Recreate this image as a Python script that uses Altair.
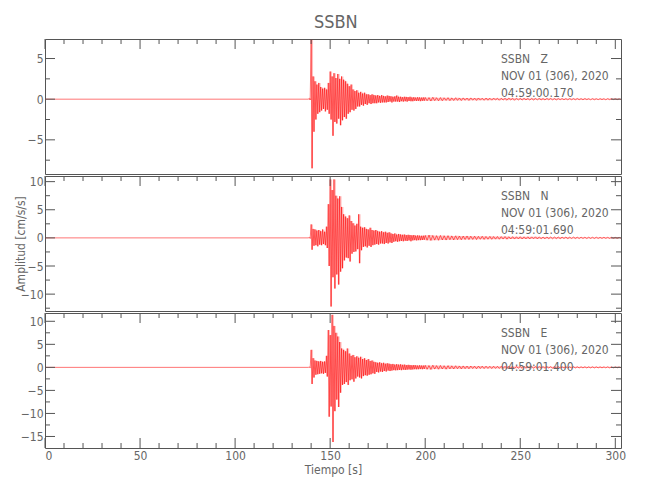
import altair as alt
import pandas as pd

FONT = "Liberation Sans Narrow, DejaVu Sans Condensed, Liberation Sans, sans-serif"
FRAME = "#555555"
TXT = "#666666"
RED = "#ff0000"

XMAX = 303
W, H = 576, 135

# ---- data (upper / lower peaks) ----
# burst part: one pair per second, t = 139 ... 199
Z_up_burst = [0.1, 7.3, 2.8, 2.2, 1.8, 2.0, 1.5, 1.3, 1.4, 1.2,
              2.0, 3.4, 2.8, 3.2, 2.6, 3.1, 2.5, 2.8, 2.4, 2.2,
              1.9, 1.6, 1.8, 1.2, 1.0, 1.1, 0.8, 0.9, 0.7, 0.8,
              0.6, 0.6, 0.5, 0.6, 0.5, 0.45, 0.5, 0.4, 0.5, 0.4,
              0.35, 0.45, 0.4, 0.35, 0.3, 0.35, 0.45, 0.3, 0.3, 0.25,
              0.3, 0.28, 0.25, 0.3, 0.22, 0.25, 0.2, 0.24, 0.22, 0.2,
              0.22]
Z_lo_burst = [-0.1, -8.5, -4.0, -2.5, -1.8, -1.6, -1.4, -1.2, -1.5, -1.3,
              -1.8, -2.5, -4.5, -2.8, -3.0, -2.4, -3.2, -2.6, -2.2, -2.4,
              -1.8, -1.6, -1.3, -1.4, -1.2, -0.9, -0.9, -0.7, -0.8, -0.6,
              -0.7, -0.5, -0.6, -0.5, -0.5, -0.5, -0.4, -0.45, -0.4, -0.4,
              -0.4, -0.35, -0.3, -0.4, -0.3, -0.3, -0.3, -0.35, -0.25, -0.3,
              -0.25, -0.3, -0.22, -0.25, -0.25, -0.2, -0.22, -0.2, -0.24, -0.2,
              -0.2]
N_up_burst = [0.1, 2.4, 1.6, 1.5, 1.3, 1.4, 1.2, 1.5, 1.1, 2.0,
              6.0, 10.4, 8.5, 10.4, 7.5, 7.0, 7.4, 5.5, 4.2, 3.8,
              3.5, 4.0, 3.0, 2.6, 2.2, 2.5, 4.2, 2.0, 1.8, 1.9,
              1.6, 1.5, 1.8, 1.4, 1.3, 1.4, 1.2, 1.1, 1.2, 1.0,
              1.1, 0.9, 1.0, 0.8, 0.7, 0.8, 0.6, 0.7, 0.6, 0.55,
              0.6, 0.5, 0.55, 0.5, 0.45, 0.5, 0.4, 0.45, 0.4, 0.38,
              0.4]
N_lo_burst = [-0.1, -2.1, -1.4, -1.3, -1.5, -1.2, -1.3, -1.1, -1.3, -1.8,
              -5.0, -12.2, -7.0, -9.0, -6.5, -8.3, -6.0, -5.4, -4.0, -3.5,
              -3.6, -4.2, -2.8, -2.5, -2.4, -2.0, -4.5, -2.2, -1.6, -1.5,
              -1.7, -1.4, -1.6, -1.3, -1.2, -1.1, -1.2, -1.0, -1.0, -1.1,
              -0.9, -1.0, -0.8, -0.9, -0.7, -0.6, -0.7, -0.6, -0.55, -0.6,
              -0.5, -0.55, -0.45, -0.6, -0.45, -0.4, -0.45, -0.4, -0.4, -0.38,
              -0.35]
E_up_burst = [0.1, 3.8, 2.0, 1.5, 1.4, 1.3, 1.4, 1.2, 1.3, 2.5,
              8.1, 7.0, 11.4, 9.0, 7.5, 6.7, 5.5, 4.1, 3.8, 3.5,
              4.1, 3.0, 2.5, 2.7, 2.2, 2.4, 2.1, 2.3, 1.8, 2.0,
              1.6, 1.8, 1.4, 1.5, 1.2, 1.1, 1.0, 1.1, 0.9, 1.0,
              0.8, 0.9, 0.8, 0.7, 0.75, 0.6, 0.7, 0.6, 0.65, 0.55,
              0.6, 0.5, 0.55, 0.5, 0.45, 0.5, 0.45, 0.4, 0.45, 0.4,
              0.4]
E_lo_burst = [-0.1, -3.6, -2.2, -1.6, -1.5, -1.4, -1.3, -1.4, -1.2, -2.0,
              -10.7, -8.5, -16.2, -9.5, -7.0, -8.6, -5.5, -3.8, -3.6, -3.2,
              -3.8, -2.8, -2.6, -3.1, -2.4, -2.0, -2.2, -2.4, -1.9, -1.7,
              -1.8, -1.6, -1.5, -1.3, -1.4, -1.0, -1.1, -0.9, -1.0, -0.8,
              -0.9, -0.7, -0.8, -0.7, -0.6, -0.65, -0.6, -0.55, -0.6, -0.5,
              -0.55, -0.5, -0.45, -0.5, -0.45, -0.4, -0.42, -0.4, -0.38, -0.4,
              -0.35]

# coda part: one pair every two seconds, t = 200 ... 302
Z_up_coda = [0.22, 0.2, 0.24, 0.18, 0.2, 0.17, 0.19, 0.16, 0.18, 0.15,
             0.16, 0.14, 0.16, 0.13, 0.15, 0.12, 0.14, 0.12, 0.13, 0.11,
             0.12, 0.11, 0.13, 0.1, 0.12, 0.1, 0.11, 0.09, 0.1, 0.09,
             0.1, 0.08, 0.1, 0.09, 0.08, 0.09, 0.08, 0.07, 0.08, 0.07,
             0.08, 0.07, 0.08, 0.06, 0.07, 0.06, 0.07, 0.06, 0.07, 0.06,
             0.06, 0.05]
Z_lo_coda = [-0.2, -0.23, -0.18, -0.2, -0.19, -0.16, -0.18, -0.17, -0.15, -0.17,
             -0.14, -0.16, -0.13, -0.15, -0.12, -0.14, -0.13, -0.12, -0.11, -0.13,
             -0.11, -0.12, -0.1, -0.12, -0.1, -0.11, -0.09, -0.1, -0.1, -0.08,
             -0.09, -0.1, -0.08, -0.08, -0.09, -0.07, -0.08, -0.08, -0.07, -0.07,
             -0.07, -0.08, -0.06, -0.07, -0.07, -0.06, -0.06, -0.07, -0.06, -0.05,
             -0.06, -0.05]
N_up_coda = [0.45, 0.5, 0.42, 0.4, 0.44, 0.38, 0.4, 0.35, 0.37, 0.33,
             0.32, 0.34, 0.3, 0.31, 0.27, 0.29, 0.26, 0.27, 0.24, 0.25,
             0.23, 0.24, 0.21, 0.22, 0.2, 0.21, 0.19, 0.2, 0.18, 0.19,
             0.17, 0.16, 0.17, 0.16, 0.15, 0.16, 0.14, 0.15, 0.13, 0.14,
             0.12, 0.13, 0.12, 0.12, 0.11, 0.12, 0.1, 0.11, 0.1, 0.1,
             0.09, 0.1]
N_lo_coda = [-0.42, -0.46, -0.4, -0.43, -0.37, -0.39, -0.34, -0.36, -0.32, -0.34,
             -0.3, -0.31, -0.28, -0.3, -0.26, -0.27, -0.25, -0.26, -0.23, -0.24,
             -0.22, -0.23, -0.2, -0.21, -0.19, -0.2, -0.18, -0.19, -0.17, -0.18,
             -0.16, -0.17, -0.15, -0.16, -0.14, -0.15, -0.13, -0.14, -0.12, -0.13,
             -0.12, -0.11, -0.12, -0.1, -0.11, -0.1, -0.1, -0.09, -0.1, -0.09,
             -0.09, -0.08]
E_up_coda = [0.45, 0.4, 0.48, 0.38, 0.42, 0.36, 0.38, 0.33, 0.35, 0.31,
             0.32, 0.29, 0.3, 0.27, 0.28, 0.26, 0.27, 0.24, 0.25, 0.23,
             0.24, 0.22, 0.23, 0.21, 0.22, 0.2, 0.21, 0.19, 0.2, 0.18,
             0.19, 0.17, 0.18, 0.16, 0.17, 0.16, 0.15, 0.16, 0.14, 0.15,
             0.14, 0.13, 0.14, 0.12, 0.13, 0.12, 0.12, 0.11, 0.12, 0.1,
             0.11, 0.1]
E_lo_coda = [-0.42, -0.46, -0.38, -0.4, -0.36, -0.39, -0.33, -0.35, -0.31, -0.33,
             -0.29, -0.31, -0.27, -0.29, -0.26, -0.27, -0.24, -0.26, -0.23, -0.24,
             -0.22, -0.23, -0.21, -0.22, -0.2, -0.21, -0.19, -0.2, -0.18, -0.19,
             -0.17, -0.18, -0.16, -0.17, -0.15, -0.16, -0.14, -0.15, -0.14, -0.13,
             -0.13, -0.12, -0.13, -0.11, -0.12, -0.11, -0.11, -0.1, -0.11, -0.1,
             -0.1, -0.09]

X_MAJOR = [0, 50, 100, 150, 200, 250, 300]
X_MINOR = [10, 20, 30, 40, 60, 70, 80, 90, 110, 120, 130, 140, 160, 170, 180, 190,
           210, 220, 230, 240, 260, 270, 280, 290]

Y_DOMAINS = [[-9.2, 7.4], [-13.0, 11.0], [-17.5, 11.8]]
Y_MAJOR = [[-5, 0, 5], [-10, -5, 0, 5, 10], [-15, -10, -5, 0, 5, 10]]
Y_MINOR = [[-7.5, -2.5, 2.5], [-12.5, -7.5, -2.5, 2.5, 7.5],
           [-12.5, -7.5, -2.5, 2.5, 7.5]]

NOTES = ["SSBN\u00a0\u00a0\u00a0Z\nNOV 01 (306), 2020\n04:59:00.170",
         "SSBN\u00a0\u00a0\u00a0N\nNOV 01 (306), 2020\n04:59:01.690",
         "SSBN\u00a0\u00a0\u00a0E\nNOV 01 (306), 2020\n04:59:01.400"]


def build(up_b, lo_b, up_c, lo_c):
    t = [0.0, 138.5]
    a = [0.0, 0.0]
    env = {"t": [], "u": [], "l": []}
    for i, (u, l) in enumerate(zip(up_b, lo_b)):
        t += [139 + i, 139.5 + i]
        a += [u, l]
        env["t"].append(139 + i)
        env["u"].append(u)
        env["l"].append(l)
    for i, (u, l) in enumerate(zip(up_c, lo_c)):
        t += [200 + 2 * i, 201 + 2 * i]
        a += [u, l]
        env["t"].append(200 + 2 * i)
        env["u"].append(u)
        env["l"].append(l)
    return pd.DataFrame({"t": t, "a": a}), pd.DataFrame(env)


traces = [build(Z_up_burst, Z_lo_burst, Z_up_coda, Z_lo_coda),
          build(N_up_burst, N_lo_burst, N_up_coda, N_lo_coda),
          build(E_up_burst, E_lo_burst, E_up_coda, E_lo_coda)]


def panel(k):
    df, env = traces[k]
    xs = alt.Scale(domain=[0, XMAX], nice=False, zero=False)
    ys = alt.Scale(domain=Y_DOMAINS[k], nice=False, zero=False)
    last = k == 2
    if last:
        xaxis = alt.Axis(values=X_MAJOR, title="Tiempo [s]", labelPadding=2,
                         titlePadding=3, format="d")
    else:
        xaxis = None
    if k == 1:
        yaxis = alt.Axis(values=Y_MAJOR[k], title="Amplitud [cm/s/s]",
                         labelPadding=2, titleX=-25, titleY=H / 2,
                         titleBaseline="middle", titleAlign="center",
                         titleAngle=270, format="d")
    else:
        yaxis = alt.Axis(values=Y_MAJOR[k], title=None, labelPadding=2, format="d")

    X = lambda: alt.X("t:Q", scale=xs, axis=xaxis)
    Y = lambda: alt.Y("a:Q", scale=ys, axis=yaxis)

    band = alt.Chart(env).mark_area(color=RED, opacity=0.25, clip=True,
                                    interpolate="step-after").encode(
        x=X(), y=alt.Y("u:Q", scale=ys, axis=yaxis), y2="l:Q")
    line = alt.Chart(df).mark_line(color=RED, strokeWidth=0.55, clip=True).encode(x=X(), y=Y())

    dxM = pd.DataFrame({"t": X_MAJOR})
    dxm = pd.DataFrame({"t": X_MINOR})
    dyM = pd.DataFrame({"a": Y_MAJOR[k]})
    dym = pd.DataFrame({"a": Y_MINOR[k]})

    rule = lambda d: alt.Chart(d).mark_rule(color=FRAME, strokeWidth=1)
    layers = [
        band,
        line,
        rule(dxM).encode(x=X(), y=alt.value(0), y2=alt.value(10)),
        rule(dxm).encode(x=X(), y=alt.value(0), y2=alt.value(5)),
        rule(dyM).encode(y=Y(), x=alt.value(0), x2=alt.value(10)),
        rule(dym).encode(y=Y(), x=alt.value(0), x2=alt.value(5)),
        rule(dyM).encode(y=Y(), x=alt.value(W - 10), x2=alt.value(W)),
        rule(dym).encode(y=Y(), x=alt.value(W - 5), x2=alt.value(W)),
    ]
    if last:
        layers += [
            rule(dxM).encode(x=X(), y=alt.value(H - 10), y2=alt.value(H)),
            rule(dxm).encode(x=X(), y=alt.value(H - 5), y2=alt.value(H)),
        ]
    note = alt.Chart(pd.DataFrame({"s": [NOTES[k]]})).mark_text(
        align="left", baseline="top", lineBreak="\n", fontSize=12,
        lineHeight=17, color=TXT, font=FONT
    ).encode(x=alt.value(456), y=alt.value(15), text="s:N")
    layers.append(note)
    return alt.layer(*layers).properties(width=W, height=H)


chart = alt.vconcat(panel(0), panel(1), panel(2), spacing=0).resolve_scale(
    x="independent", y="independent"
).properties(
    title=alt.TitleParams("SSBN", fontSize=18, font=FONT, color=TXT,
                          fontWeight="normal", anchor="middle", offset=6, dx=16),
    padding={"left": 5, "top": 6, "right": 5, "bottom": 5},
).configure_view(stroke=FRAME, strokeWidth=1).configure_axis(
    ticks=False, domain=False, grid=False, labelFont=FONT, titleFont=FONT,
    labelColor=TXT, titleColor=TXT, labelFontSize=12, titleFontSize=12,
    titleFontWeight="normal"
).configure_concat(spacing=0)

chart.save("out.html", embed_options={"renderer": "svg", "actions": False})
